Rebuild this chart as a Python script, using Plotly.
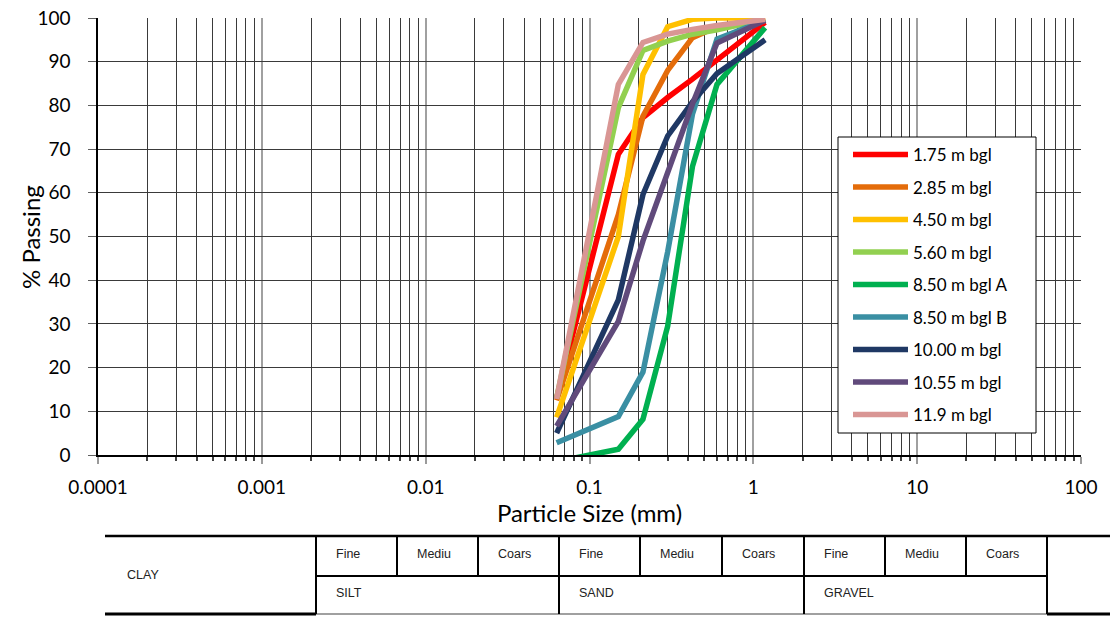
import plotly.graph_objects as go

# Sieve sizes (mm) and percent passing for each sample depth
sieve_mm = [0.063, 0.15, 0.212, 0.3, 0.425, 0.6, 1.18]

sample_names = [
    "1.75 m bgl", "2.85 m bgl", "4.50 m bgl", "5.60 m bgl", "8.50 m bgl A",
    "8.50 m bgl B", "10.00 m bgl", "10.55 m bgl", "11.9 m bgl",
]
pass_175 = [13.0, 68.8, 77.2, 81.8, 86.0, 90.5, 99.0]
pass_285 = [12.5, 55.0, 77.5, 88.0, 95.5, 98.0, 100.0]
pass_450 = [8.6, 50.0, 87.1, 98.0, 99.7, 100.0, 100.0]
pass_560 = [13.0, 79.5, 92.6, 94.7, 96.3, 97.3, 99.7]
pass_850a = [-1.5, 1.3, 8.2, 29.5, 66.0, 84.8, 97.8]
pass_850b = [2.8, 8.8, 19.0, 46.5, 78.0, 95.2, 99.5]
pass_1000 = [5.0, 35.5, 59.6, 73.0, 80.8, 87.3, 95.0]
pass_1055 = [6.6, 30.6, 49.0, 64.4, 80.3, 94.3, 99.5]
pass_1190 = [12.8, 84.8, 94.4, 96.3, 97.4, 98.3, 99.7]

series_values = [pass_175, pass_285, pass_450, pass_560, pass_850a,
                 pass_850b, pass_1000, pass_1055, pass_1190]
series_colors = ["#FF0000", "#E46C0A", "#FFC000", "#92D050", "#00B050",
                 "#3A8FA3", "#1F3864", "#604A7B", "#D99694"]

x_tick_vals = [0.0001, 0.001, 0.01, 0.1, 1, 10, 100]
x_tick_text = ["0.0001", "0.001", "0.01", "0.1", "1", "10", "100"]

# Classification table labels
class_top_row = ["Fine", "Mediu", "Coars", "Fine", "Mediu", "Coars", "Fine", "Mediu", "Coars"]
class_bottom_row = ["SILT", "SAND", "GRAVEL"]
class_clay = "CLAY"

W, H = 1110, 619
ML, MR, MT, MB = 98, 29, 18, 164
PW, PH = W - ML - MR, H - MT - MB

def px(xp):
    return (xp - ML) / PW

def py(yp):
    return (H - MB - yp) / PH

FONT = "Lato, 'Open Sans', sans-serif"

fig = go.Figure()
for name, vals, col in zip(sample_names, series_values, series_colors):
    fig.add_trace(go.Scatter(
        x=sieve_mm, y=vals, mode="lines", name=name, legendgroup=name,
        line=dict(color=col, width=5.5),
    ))

minor_vals = [m * 10.0 ** e for e in range(-4, 2) for m in range(2, 10)]

fig.update_layout(
    width=W, height=H, autosize=False,
    margin=dict(l=ML, r=MR, t=MT, b=MB, pad=0, autoexpand=False),
    paper_bgcolor="white", plot_bgcolor="white",
    font=dict(family=FONT, color="black"),
    showlegend=True,
    legend=dict(
        x=px(840), y=py(137), xanchor="left", yanchor="top",
        bgcolor="rgba(0,0,0,0)", borderwidth=0,
        font=dict(size=17, family=FONT, color="black"),
        traceorder="grouped", tracegroupgap=7.4, itemwidth=55,
        indentation=8,
    ),
    xaxis=dict(
        type="log", range=[-4, 2], automargin=False,
        tickmode="array", tickvals=x_tick_vals, ticktext=x_tick_text,
        ticks="outside", ticklen=7, tickcolor="#9a9a9a", tickwidth=1.5,
        tickfont=dict(size=19, family=FONT),
        showgrid=True, gridcolor="#a0a0a0", gridwidth=1.5,
        showline=True, linecolor="black", linewidth=1.5,
        zeroline=False,
        minor=dict(tickmode="array", tickvals=minor_vals, ticks="outside",
                   ticklen=4, tickcolor="#404040", showgrid=True,
                   gridcolor="#3a3a3a", gridwidth=1),
        title=dict(text="Particle Size (mm)", font=dict(size=24, family=FONT), standoff=6),
        ticklabelstandoff=7,
    ),
    yaxis=dict(
        range=[0, 100], dtick=10, tick0=0, automargin=False,
        ticks="outside", ticklen=8, tickcolor="#606060",
        tickfont=dict(size=19, family=FONT),
        showgrid=True, gridcolor="#3a3a3a", gridwidth=1,
        showline=True, linecolor="black", linewidth=1.5,
        zeroline=False,
        ticklabelstandoff=14,
    ),
)

annotations = []
shapes = []

# Legend frame: white box over the curves, legend entries sit on top of it
shapes.append(dict(type="rect", xref="paper", yref="paper", layer="above",
                   x0=px(838), x1=px(1036), y0=py(433), y1=py(137),
                   fillcolor="white", line=dict(color="black", width=1)))

# y-axis title placed beside the tick labels
annotations.append(dict(text="% Passing", xref="paper", yref="paper",
                        x=px(30), y=py(237), xanchor="center", yanchor="middle",
                        textangle=-90, showarrow=False,
                        font=dict(size=24, family=FONT, color="black")))

# Soil classification table below the chart
def hline(x0, x1, y, width=2, color="black"):
    shapes.append(dict(type="line", xref="paper", yref="paper",
                       x0=px(x0), x1=px(x1), y0=py(y), y1=py(y),
                       line=dict(color=color, width=width)))

def vline(x, y0, y1, width=2, color="black"):
    shapes.append(dict(type="line", xref="paper", yref="paper",
                       x0=px(x), x1=px(x), y0=py(y0), y1=py(y1),
                       line=dict(color=color, width=width)))

T_TOP, T_MID, T_BOT = 536, 576, 614
cell_edges = [316, 397, 478, 559, 640, 722, 804, 885, 966, 1047]

hline(105, 1110, T_TOP, 2.5)
hline(316, 1047, T_MID, 2)
hline(105, 316, T_BOT, 3)
hline(316, 1047, T_BOT, 1.5, "#808080")
hline(1047, 1110, T_BOT, 3)
for i, xe in enumerate(cell_edges):
    if i % 3 == 0:
        vline(xe, T_TOP, T_BOT)
    else:
        vline(xe, T_TOP, T_MID)

def label(text, xp, yp):
    annotations.append(dict(text=text, xref="paper", yref="paper",
                            x=px(xp), y=py(yp), xanchor="left", yanchor="middle",
                            showarrow=False,
                            font=dict(size=12.5, family="Liberation Sans, Arial", color="#222222")))

label(class_clay, 125, 575)
for i, t in enumerate(class_top_row):
    label(t, cell_edges[i] + 18, 553.5)
for i, t in enumerate(class_bottom_row):
    label(t, cell_edges[3 * i] + 18, 592.5)

fig.update_layout(shapes=shapes, annotations=annotations)

fig.write_html("out.html")
